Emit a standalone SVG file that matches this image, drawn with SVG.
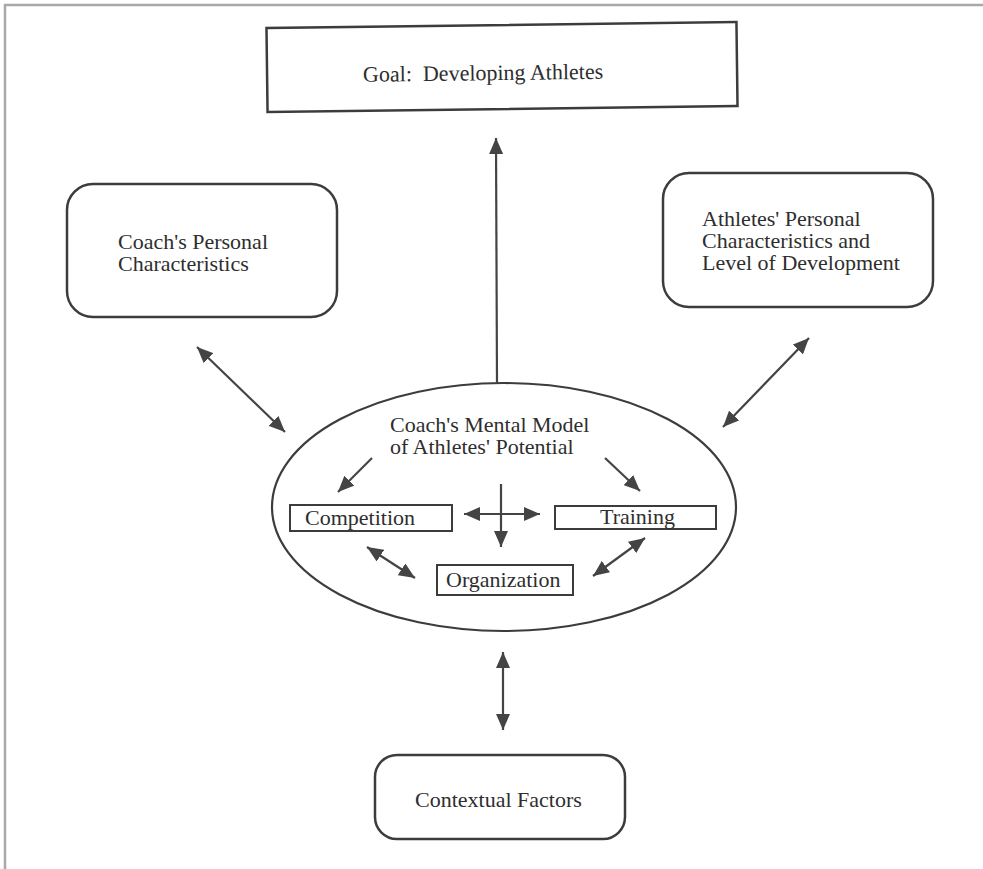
<svg xmlns="http://www.w3.org/2000/svg" width="983" height="869" viewBox="0 0 983 869">
<style>
.box{fill:none;stroke:#3c3c3c;stroke-width:2.5}
.ibox{fill:none;stroke:#3c3c3c;stroke-width:2}
.t{font-family:"Liberation Serif","Times New Roman",serif;font-size:22px;fill:#2e2e2e}
.ar{stroke:#444;stroke-width:2.2;fill:none}
.one{marker-end:url(#ah)}
.two{marker-start:url(#ah);marker-end:url(#ah)}
</style>
<defs>
<marker id="ah" markerUnits="userSpaceOnUse" markerWidth="18" markerHeight="14" refX="16" refY="7" orient="auto-start-reverse">
<path d="M0,0 L16,7 L0,14 Z" fill="#444"/>
</marker>
</defs>
<rect width="983" height="869" fill="#fff"/>
<g id="frame" stroke="#a8a8a8" stroke-width="2.5">
<line x1="4" y1="5" x2="983" y2="5"/>
<line x1="5" y1="4" x2="5" y2="869"/>
</g>
<g id="goal" transform="rotate(-0.73 502 67)">
<rect class="box" x="267" y="25" width="470" height="84"/>
<text class="t" x="483" y="80" text-anchor="middle">Goal:&#160; Developing Athletes</text>
</g>
<g id="coach">
<rect class="box" x="67" y="184" width="270" height="133" rx="26"/>
<text class="t" x="118" y="249">Coach's Personal</text>
<text class="t" x="118" y="271">Characteristics</text>
</g>
<g id="athletes">
<rect class="box" x="663" y="173" width="270" height="134" rx="26"/>
<text class="t" x="702" y="226">Athletes' Personal</text>
<text class="t" x="702" y="248">Characteristics and</text>
<text class="t" x="702" y="270">Level of Development</text>
</g>
<g id="mental-model">
<ellipse cx="504" cy="507" rx="232" ry="124" fill="none" stroke="#3c3c3c" stroke-width="2.2"/>
<text class="t" x="390" y="432">Coach's Mental Model</text>
<text class="t" x="390" y="454">of Athletes' Potential</text>
</g>
<g id="competition">
<rect class="ibox" x="290" y="505" width="162" height="26"/>
<text class="t" x="305" y="525">Competition</text>
</g>
<g id="training">
<rect class="ibox" x="555" y="506" width="161" height="23"/>
<text class="t" x="600" y="524">Training</text>
</g>
<g id="organization">
<rect class="ibox" x="437" y="565" width="136" height="30"/>
<text class="t" x="446" y="587">Organization</text>
</g>
<g id="contextual">
<rect class="box" x="375" y="755" width="250" height="84" rx="22"/>
<text class="t" x="415" y="807">Contextual Factors</text>
</g>
<g id="connectors">
<line class="ar one" x1="497" y1="383" x2="496" y2="138"/>
<line class="ar two" x1="197" y1="347" x2="285" y2="432"/>
<line class="ar two" x1="809" y1="338" x2="723" y2="427"/>
<line class="ar two" x1="503" y1="652" x2="503" y2="730"/>
<line class="ar one" x1="372" y1="458" x2="338" y2="492"/>
<line class="ar one" x1="605" y1="458" x2="640" y2="491"/>
<line class="ar two" x1="464" y1="514" x2="540" y2="514"/>
<line class="ar one" x1="501" y1="484" x2="501" y2="547"/>
<line class="ar two" x1="367" y1="547" x2="415" y2="578"/>
<line class="ar two" x1="645" y1="538" x2="593" y2="576"/>
</g>
</svg>
